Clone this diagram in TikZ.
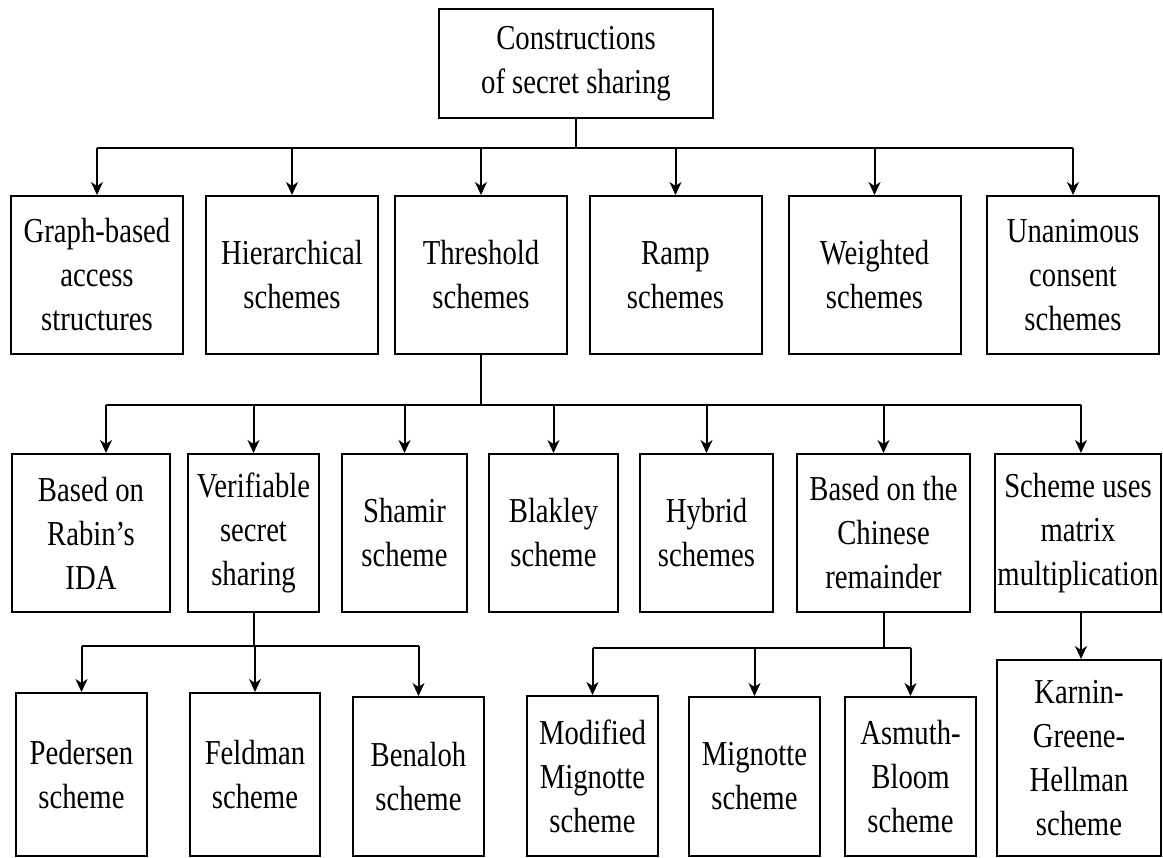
\documentclass[tikz,border=0pt]{standalone}
\usepackage{fontspec}
\setmainfont[FakeStretch=0.82]{Liberation Serif}
\usetikzlibrary{arrows.meta}
\begin{document}
\begin{tikzpicture}[x=1pt,y=-1pt,
  box/.style={draw, line width=2pt, align=center, inner sep=0pt,
    font=\fontsize{35}{44}\selectfont},
  conn/.style={line width=2pt},
  arr/.style={conn, -{Stealth[length=13pt,width=12pt,inset=4pt]}}]
\useasboundingbox (0,0) rectangle (1163,858);
% top
\node[box, minimum width=274pt, minimum height=109pt] (top) at (576,63.5) {Constructions\\of secret sharing};
% level 2
\foreach \n/\cx/\t in {g1/97/{Graph-based\\access\\structures},
                       g2/292/{Hierarchical\\schemes},
                       g3/481/{Threshold\\schemes},
                       g4/675.5/{Ramp\\schemes},
                       g5/874.5/{Weighted\\schemes},
                       g6/1073/{Unanimous\\consent\\schemes}}
  \node[box, minimum width=172pt, minimum height=158pt] (\n) at (\cx,275) {\t};
% level 3
\node[box, minimum width=158pt, minimum height=158pt] (r1) at (91,533) {Based on\\Rabin’s\\IDA};
\node[box, minimum width=131pt, minimum height=158pt] (r2) at (253.5,533) {Verifiable\\secret\\sharing};
\node[box, minimum width=125pt, minimum height=158pt] (r3) at (404.5,533) {Shamir\\scheme};
\node[box, minimum width=129pt, minimum height=158pt] (r4) at (553.5,533) {Blakley\\scheme};
\node[box, minimum width=133pt, minimum height=158pt] (r5) at (706.5,533) {Hybrid\\schemes};
\node[box, minimum width=173pt, minimum height=158pt] (r6) at (883.5,533) {Based on the\\Chinese\\remainder};
\node[box, minimum width=166pt, minimum height=158pt] (r7) at (1078,533) {Scheme uses\\matrix\\multiplication};
% level 4
\node[box, minimum width=131pt, minimum height=163pt] (p1) at (81.5,774.5) {Pedersen\\scheme};
\node[box, minimum width=130pt, minimum height=163pt] (p2) at (255,774.5) {Feldman\\scheme};
\node[box, minimum width=131pt, minimum height=159pt] (p3) at (418.5,776.5) {Benaloh\\scheme};
\node[box, minimum width=131pt, minimum height=160pt] (m1) at (592.5,776) {Modified\\Mignotte\\scheme};
\node[box, minimum width=131pt, minimum height=159pt] (m2) at (754.5,776.5) {Mignotte\\scheme};
\node[box, minimum width=131pt, minimum height=159pt] (m3) at (910.5,776.5) {Asmuth-\\Bloom\\scheme};
\node[box, minimum width=164pt, minimum height=196pt] (k) at (1079,758) {Karnin-\\Greene-\\Hellman\\scheme};
% connectors level 1 -> 2
\coordinate (h1) at (0,148);
\draw[conn] (top.south) -- (top.south |- h1);
\draw[conn] (g1.north |- h1) -- (g6.north |- h1);
\foreach \n in {g1,g2,g3,g4,g5,g6}
  \draw[arr] (\n.north |- h1) -- (\n.north);
% level 2 -> 3
\coordinate (h2) at (0,405);
\coordinate (r1a) at ([xshift=15pt]r1.north);
\coordinate (r7a) at ([xshift=3pt]r7.north);
\draw[conn] (g3.south) -- (g3.south |- h2);
\draw[conn] (r1a |- h2) -- (r7a |- h2);
\draw[arr] (r1a |- h2) -- (r1a);
\foreach \n in {r2,r3,r4,r5,r6}
  \draw[arr] (\n.north |- h2) -- (\n.north);
\draw[arr] (r7a |- h2) -- (r7a);
% verifiable -> level 4
\coordinate (h3) at (0,646);
\draw[conn] (r2.south) -- (r2.south |- h3);
\draw[conn] (p1.north |- h3) -- (p3.north |- h3);
\foreach \n in {p1,p2,p3}
  \draw[arr] (\n.north |- h3) -- (\n.north);
% chinese -> level 4
\coordinate (h4) at (0,648);
\draw[conn] (r6.south) -- (r6.south |- h4);
\draw[conn] (m1.north |- h4) -- (m3.north |- h4);
\foreach \n in {m1,m2,m3}
  \draw[arr] (\n.north |- h4) -- (\n.north);
% matrix -> KGH
\coordinate (ka) at ([xshift=2pt]k.north);
\draw[arr] (ka |- r7.south) -- (ka);
\end{tikzpicture}
\end{document}
